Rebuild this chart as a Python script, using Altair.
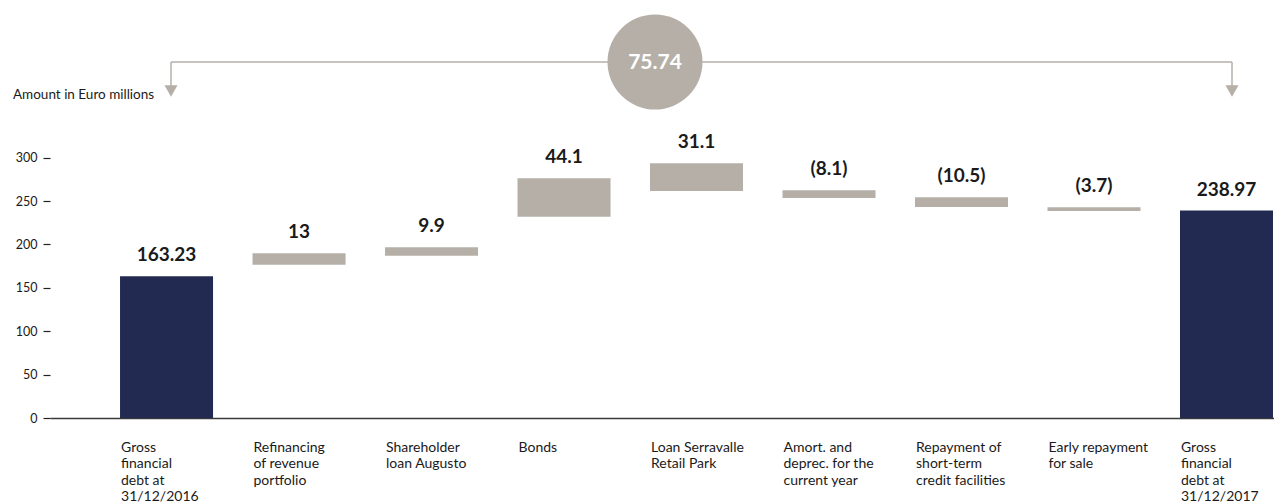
import altair as alt
import pandas as pd

# ---- data ----
categories = [
    "Gross|financial|debt at|31/12/2016",
    "Refinancing|of revenue|portfolio",
    "Shareholder|loan Augusto",
    "Bonds",
    "Loan Serravalle|Retail Park",
    "Amort. and|deprec. for the|current year",
    "Repayment of|short-term|credit facilities",
    "Early repayment|for sale",
    "Gross|financial|debt at|31/12/2017",
]
value_labels = ["163.23", "13", "9.9", "44.1", "31.1", "(8.1)", "(10.5)", "(3.7)", "238.97"]
bar_start = [0, 176.5, 186.8, 231.8, 261.6, 253.5, 243.2, 238.6, 0]
bar_end = [163.23, 189.9, 196.8, 276.2, 293.5, 262.4, 254.4, 242.8, 238.97]
kinds = ["total", "change", "change", "change", "change", "change", "change", "change", "total"]
total_change = "75.74"
y_ticks = [0, 50, 100, 150, 200, 250, 300]
unit_label = "Amount in Euro millions"

NAVY = "#232a52"
GREY = "#b5afa8"
TEXT = "#1a1a1a"

df = pd.DataFrame({
    "cat": categories,
    "start": bar_start,
    "end": bar_end,
    "kind": kinds,
    "label": value_labels,
})

xscale = alt.Scale(domain=categories, paddingInner=0.298, paddingOuter=0.268, align=0.986)
yscale = alt.Scale(domain=[0, 472.4], nice=False, zero=True)

x_enc = alt.X(
    "cat:N",
    scale=xscale,
    sort=categories,
    axis=alt.Axis(
        title=None,
        ticks=False,
        domain=True,
        domainColor="#3a3a3a",
        domainWidth=1.5,
        labelAngle=0,
        labelAlign="left",
        labelBaseline="top",
        labelOffset=-45.5,
        labelPadding=22,
        labelFontSize=14,
        labelColor=TEXT,
        labelLineHeight=16.5,
        labelOverlap=False,
        labelLimit=200,
        labelExpr="split(datum.label, '|')",
    ),
)

bars = alt.Chart(df).mark_bar().encode(
    x=x_enc,
    y=alt.Y(
        "start:Q",
        scale=yscale,
        axis=alt.Axis(
            title=None,
            values=y_ticks,
            domain=False,
            grid=False,
            ticks=True,
            tickSize=7,
            tickColor="#222222",
            tickWidth=1.2,
            labelPadding=6,
            labelFontSize=12.5,
            labelColor=TEXT,
        ),
    ),
    y2="end:Q",
    color=alt.Color("kind:N", scale=alt.Scale(domain=["total", "change"], range=[NAVY, GREY]), legend=None),
)

labels = alt.Chart(df).mark_text(
    fontSize=19, fontWeight="bold", baseline="alphabetic", dy=-15, color=TEXT
).encode(
    x=alt.X("cat:N", scale=xscale, sort=categories),
    y=alt.Y("end:Q", scale=yscale),
    text="label:N",
)

one = pd.DataFrame({"k": [1]})

bracket = alt.Chart(one).mark_rule(color=GREY, strokeWidth=1.5).encode(
    x=alt.value(121), x2=alt.value(1182), y=alt.value(54)
)
left_stem = alt.Chart(one).mark_rule(color=GREY, strokeWidth=1.5).encode(
    x=alt.value(121), y=alt.value(54), y2=alt.value(79)
)
right_stem = alt.Chart(one).mark_rule(color=GREY, strokeWidth=1.5).encode(
    x=alt.value(1182), y=alt.value(54), y2=alt.value(79)
)
left_tri = alt.Chart(one).mark_point(shape="triangle-down", filled=True, size=169, color=GREY, opacity=1).encode(
    x=alt.value(121), y=alt.value(83)
)
right_tri = alt.Chart(one).mark_point(shape="triangle-down", filled=True, size=169, color=GREY, opacity=1).encode(
    x=alt.value(1182), y=alt.value(83)
)
circle = alt.Chart(one).mark_point(shape="circle", filled=True, size=9025, color=GREY, opacity=1).encode(
    x=alt.value(605), y=alt.value(54)
)
circle_text = alt.Chart(one).mark_text(
    fontSize=21, fontWeight="bold", color="white", baseline="middle", align="center"
).encode(x=alt.value(605), y=alt.value(55), text=alt.value(total_change))

unit_text = alt.Chart(one).mark_text(
    fontSize=13.5, color=TEXT, align="left", baseline="alphabetic"
).encode(x=alt.value(-37), y=alt.value(91), text=alt.value(unit_label))

chart = alt.layer(
    bars, labels, bracket, left_stem, right_stem, left_tri, right_tri, circle, circle_text, unit_text
).properties(
    width=1224,
    height=410,
    autosize=alt.AutoSizeParams(type="none"),
    padding={"left": 42, "top": 0, "right": 0, "bottom": 95},
).configure(font="Lato").configure_view(strokeWidth=0)

chart.save("out.html", embed_options={"renderer": "svg", "actions": False})
